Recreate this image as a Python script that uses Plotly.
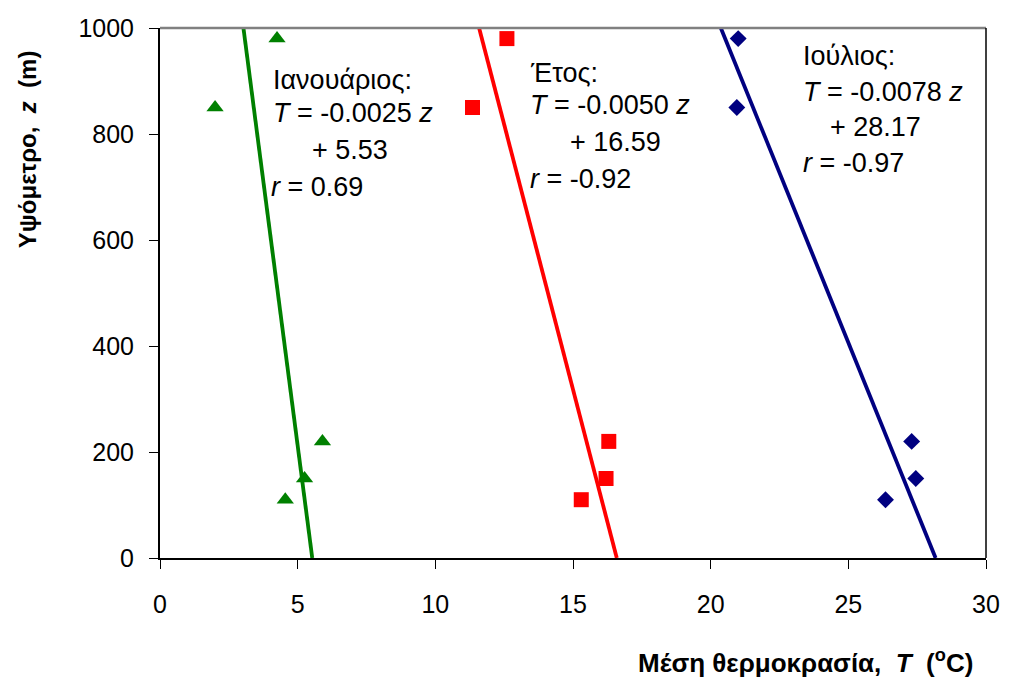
import plotly.graph_objects as go

# Data
jan_T = [2.0, 4.25, 4.55, 5.25, 5.9]
jan_z = [850, 980, 110, 150, 220]
year_T = [11.35, 12.6, 15.3, 16.2, 16.3]
year_z = [850, 980, 110, 150, 220]
jul_T = [20.95, 21.0, 26.35, 27.45, 27.3]
jul_z = [850, 980, 110, 150, 220]

# regression: T = slope*z + intercept
slopes = [-0.0025, -0.0050, -0.0078]
intercepts = [5.53, 16.59, 28.17]
colors = ["#008000", "#FF0000", "#000080"]
symbols = ["triangle-up", "square", "diamond"]
msizes = [15, 15, 13]
z_range = [0, 1000]

x_ticks = [0, 5, 10, 15, 20, 25, 30]
y_ticks = [0, 200, 400, 600, 800, 1000]

FONT = "Liberation Sans, Arial, sans-serif"
FS = 25
W, H = 1012, 680
L, R, T_, B = 160, 18, 28, 122
pw, ph = W - L - R, H - T_ - B


def px_x(p):
    return (p - L) / pw


def px_y(p):
    return (H - B - p) / ph


fig = go.Figure()
for (T, z), col, sym, ms in zip([(jan_T, jan_z), (year_T, year_z), (jul_T, jul_z)], colors, symbols, msizes):
    fig.add_trace(go.Scatter(x=T, y=z, mode="markers",
                             marker=dict(symbol=sym, size=ms, color=col, line=dict(width=0)),
                             showlegend=False, cliponaxis=False))
for a, b, col in zip(slopes, intercepts, colors):
    xs = [a * zz + b for zz in z_range]
    fig.add_trace(go.Scatter(x=xs, y=z_range, mode="lines",
                             line=dict(color=col, width=3.8), showlegend=False))

# annotations (text blocks)
blocks = [
    (272, [80, 113, 150, 187], ["Ιανουάριος:", "<i>T</i> = -0.0025 <i>z</i>", "+ 5.53", "<i>r</i> = 0.69"], [0, 0, 39, -2]),
    (532, [73, 105, 142, 179], ["Έτος:", "<i>T</i> = -0.0050 <i>z</i>", "+ 16.59", "<i>r</i> = -0.92"], [0, 0, 40, 0]),
    (807, [56, 92, 127, 163], ["Ιούλιος:", "<i>T</i> = -0.0078 <i>z</i>", "+ 28.17", "<i>r</i> = -0.97"], [0, 0, 27, 0]),
]
for x0, ys, texts, offs in blocks:
    for yy, t, o in zip(ys, texts, offs):
        fig.add_annotation(x=px_x(x0 + o), y=px_y(yy), xref="paper", yref="paper",
                           text=t, showarrow=False, xanchor="left", yanchor="middle",
                           font=dict(family=FONT, size=27, color="black"))

fig.add_annotation(x=px_x(983), y=px_y(661), xref="paper", yref="paper",
                   text="<b>Μέση θερμοκρασία,&nbsp; <i>T</i>&nbsp; (<sup>o</sup>C)</b>", showarrow=False,
                   xanchor="right", yanchor="middle",
                   font=dict(family=FONT, size=26, color="black"))
fig.add_annotation(x=px_x(27), y=px_y(149), xref="paper", yref="paper",
                   text="<b>Υψόμετρο,&nbsp; <i>z</i>&nbsp; (m)</b>", showarrow=False, textangle=-90,
                   xanchor="center", yanchor="middle",
                   font=dict(family=FONT, size=24, color="black"))

# borders
fig.add_shape(type="line", xref="paper", yref="paper", x0=0, x1=1, y0=1, y1=1,
              line=dict(color="#808080", width=2.5))
fig.add_shape(type="line", xref="paper", yref="paper", x0=1, x1=1, y0=0, y1=1,
              line=dict(color="black", width=1.5))

fig.update_layout(
    width=W, height=H,
    margin=dict(l=L, r=R, t=T_, b=B),
    paper_bgcolor="white", plot_bgcolor="white",
    font=dict(family=FONT, size=FS, color="black"),
    xaxis=dict(range=[0, 30], tickvals=x_ticks, ticks="outside", ticklen=9, tickcolor="black",
               showline=True, linecolor="black", linewidth=1.5, showgrid=False, zeroline=False,
               ticklabelstandoff=14, tickfont=dict(family=FONT, size=FS)),
    yaxis=dict(range=[0, 1000], tickvals=y_ticks, ticks="outside", ticklen=9, tickcolor="black",
               showline=True, linecolor="black", linewidth=2, showgrid=False, zeroline=False,
               ticklabelstandoff=10, tickfont=dict(family=FONT, size=FS)),
)

fig.write_html("out.html")
